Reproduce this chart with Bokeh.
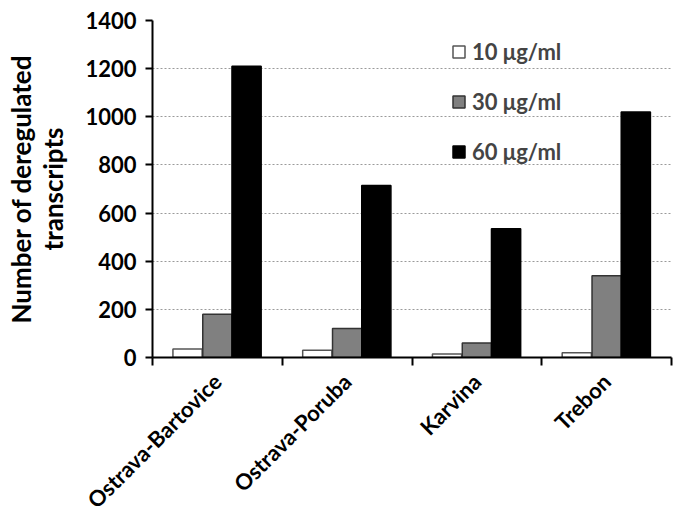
import numpy as np
from bokeh.plotting import figure
from bokeh.models import ColumnDataSource, FixedTicker, Legend, LegendItem, Range1d
from bokeh.embed import file_html
from bokeh.resources import INLINE

sites = ["Ostrava-Bartovice", "Ostrava-Poruba", "Karvina", "Trebon"]
series_names = ["10 \u03bcg/ml", "30 \u03bcg/ml", "60 \u03bcg/ml"]
v10 = [35, 30, 15, 20]
v30 = [180, 120, 60, 340]
v60 = [1210, 715, 535, 1020]
y_ticks = [0, 200, 400, 600, 800, 1000, 1200, 1400]

FONT = "Lato"

p = figure(width=675, height=525, output_backend="svg", toolbar_location=None,
           x_range=Range1d(0, 4), y_range=Range1d(0, 1400),
           min_border_left=152, min_border_right=4, min_border_top=20, min_border_bottom=167)
p.outline_line_color = None

idx = np.arange(len(sites)) + 0.5
offsets = [-0.23, 0.0, 0.225]
fills = ["white", "#808080", "black"]
lines = ["#555555", "#333333", "black"]
renderers = []
for vals, off, fc, lc in zip([v10, v30, v60], offsets, fills, lines):
    src = ColumnDataSource(dict(x=idx + off, top=vals))
    r = p.vbar(x="x", top="top", width=0.225, bottom=0, source=src,
               fill_color=fc, line_color=lc, line_width=1.5)
    renderers.append(r)

# x axis: labels at category centers, ticks at category boundaries
p.xaxis.ticker = FixedTicker(ticks=list(idx), minor_ticks=list(range(len(sites) + 1)))
p.xaxis.major_label_overrides = {float(x): s for x, s in zip(idx, sites)}
p.xaxis.major_tick_out = 0
p.xaxis.major_tick_in = 0
p.xaxis.minor_tick_out = 8
p.xaxis.minor_tick_in = 0
p.xaxis.minor_tick_line_color = "black"
p.xaxis.minor_tick_line_width = 2
p.xaxis.major_label_orientation = np.pi / 4
p.xaxis.major_label_text_font = FONT
p.xaxis.major_label_text_font_style = "bold"
p.xaxis.major_label_text_font_size = "22px"
p.xaxis.major_label_text_color = "black"
p.xaxis.major_label_standoff = 12
p.xaxis.axis_line_width = 2
p.xaxis.axis_line_color = "black"

p.yaxis.ticker = FixedTicker(ticks=y_ticks)
p.yaxis.minor_tick_line_color = None
p.yaxis.major_tick_out = 7
p.yaxis.major_tick_in = 0
p.yaxis.major_tick_line_width = 2
p.yaxis.axis_line_width = 2
p.yaxis.axis_line_color = "black"
p.yaxis.major_label_text_font = FONT
p.yaxis.major_label_text_font_style = "bold"
p.yaxis.major_label_text_font_size = "22px"
p.yaxis.major_label_text_color = "black"
p.yaxis.major_label_standoff = 9
p.yaxis.axis_label = "Number of deregulated\ntranscripts"
p.yaxis.axis_label_text_font = FONT
p.yaxis.axis_label_text_font_style = "bold"
p.yaxis.axis_label_text_font_size = "26px"
p.yaxis.axis_label_text_line_height = 1.0
p.yaxis.axis_label_text_color = "black"
p.yaxis.axis_label_standoff = 13

p.xgrid.grid_line_color = None
p.ygrid.grid_line_color = "#9a9a9a"
p.ygrid.grid_line_dash = "2 2"
p.ygrid.grid_line_width = 1

legend = Legend(items=[LegendItem(label=n, renderers=[r]) for n, r in zip(series_names, renderers)],
                location=(299, 192))
legend.border_line_color = None
legend.background_fill_alpha = 0
legend.label_text_font = FONT
legend.label_text_font_style = "bold"
legend.label_text_font_size = "22px"
legend.glyph_width = 15
legend.glyph_height = 15
legend.spacing = 23
legend.label_standoff = 6
p.add_layout(legend, "center")

open("out.html", "w").write(file_html(p, INLINE))
